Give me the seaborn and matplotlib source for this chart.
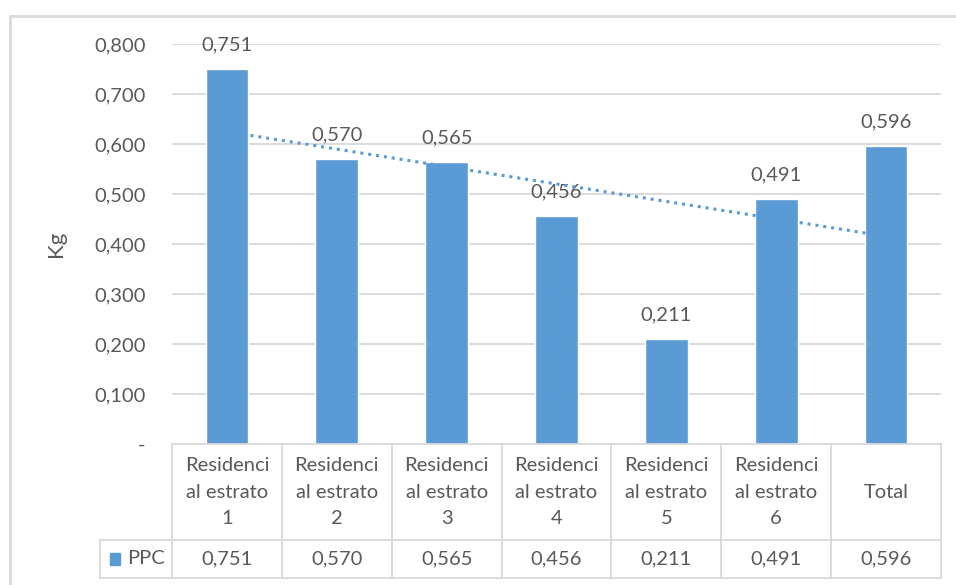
import numpy as np
import pandas as pd
import seaborn as sb
import matplotlib.pyplot as plt
from matplotlib.ticker import FuncFormatter
from matplotlib.patches import Rectangle

categorias = ["Residenci\nal estrato\n1", "Residenci\nal estrato\n2", "Residenci\nal estrato\n3",
              "Residenci\nal estrato\n4", "Residenci\nal estrato\n5", "Residenci\nal estrato\n6", "Total"]
ppc = [0.751, 0.570, 0.565, 0.456, 0.211, 0.491, 0.596]
serie = "PPC"
y_label = "Kg"
y_ticks = [0, 0.1, 0.2, 0.3, 0.4, 0.5, 0.6, 0.7, 0.8]

azul = "#5B9BD5"
gris = "#595959"
linea = "#D9D9D9"
fs = 14.5

sb.set_style("white")
plt.rcParams['font.family'] = ['Lato', 'DejaVu Sans']
plt.rcParams['font.size'] = fs

def fmt(v):
    return f"{v:.3f}".replace(".", ",")

df = pd.DataFrame({"cat": categorias, "val": ppc})

W, H = 956, 585
fig = plt.figure(figsize=(W / 100, H / 100), dpi=100)

# marco exterior
fig.add_artist(plt.Line2D([10 / W, 10 / W], [0, 1 - 16 / H], color=linea, lw=2, transform=fig.transFigure))
fig.add_artist(plt.Line2D([10 / W, 1], [1 - 16 / H, 1 - 16 / H], color=linea, lw=2, transform=fig.transFigure))

ax = fig.add_axes([172 / W, (H - 444) / H, (941 - 172) / W, 400 / H])
sb.barplot(data=df, x="cat", y="val", color=azul, width=0.39, saturation=1, ax=ax)
ax.set_xlim(-0.5, len(ppc) - 0.5)
ax.set_ylim(0, 0.8)
ax.set_yticks(y_ticks)
ax.yaxis.set_major_formatter(FuncFormatter(lambda v, p: "-" if v == 0 else fmt(v)))
ax.tick_params(axis="y", length=0, pad=19, labelcolor=gris, labelsize=fs)
ax.set_xticks([])
ax.set_xlabel("")
ax.set_ylabel(y_label, color=gris, fontsize=16, labelpad=20)
ax.grid(axis="y", color=linea, lw=1.3)
ax.set_axisbelow(True)
for s in ax.spines.values():
    s.set_visible(False)

# etiquetas de datos
for i, v in enumerate(ppc):
    ax.annotate(fmt(v), (i, v), xytext=(0, 24), textcoords="offset pixels",
                ha="center", va="center", color=gris, fontsize=fs)

# linea de tendencia
xs = np.arange(len(ppc))
m, b = np.polyfit(xs, ppc, 1)
ax.plot([xs[0], xs[-1]], [m * xs[0] + b, m * xs[-1] + b], ls=(0, (1, 1.6)), color=azul, lw=2.2, zorder=3)

# tabla de datos
tx = fig.add_axes([172 / W, (H - 578) / H, (941 - 172) / W, 134 / H])
tx.set_xlim(-0.5, len(ppc) - 0.5)
tx.set_ylim(134, 0)
tx.axis("off")
left = -0.5 - 72 / 110
kw = dict(color=linea, lw=1.3, clip_on=False)
tx.plot([-0.5, len(ppc) - 0.5], [0, 0], **kw)
tx.plot([left, len(ppc) - 0.5], [96, 96], **kw)
tx.plot([left, len(ppc) - 0.5], [134, 134], **kw)
tx.plot([left, left], [96, 134], **kw)
for k in range(len(ppc) + 1):
    tx.plot([k - 0.5, k - 0.5], [0, 134], **kw)
for i, c in enumerate(categorias):
    tx.text(i, 48, c, ha="center", va="center", color=gris, fontsize=fs, linespacing=1.68)
    tx.text(i, 115, fmt(ppc[i]), ha="center", va="center", color=gris, fontsize=fs)
tx.add_patch(Rectangle((left + 10 / 110, 109), 10 / 110, 12, color=azul, clip_on=False))
tx.text(left + 27 / 110, 115, serie, ha="left", va="center", color=gris, fontsize=fs)

fig.savefig("out.png", dpi=100)
